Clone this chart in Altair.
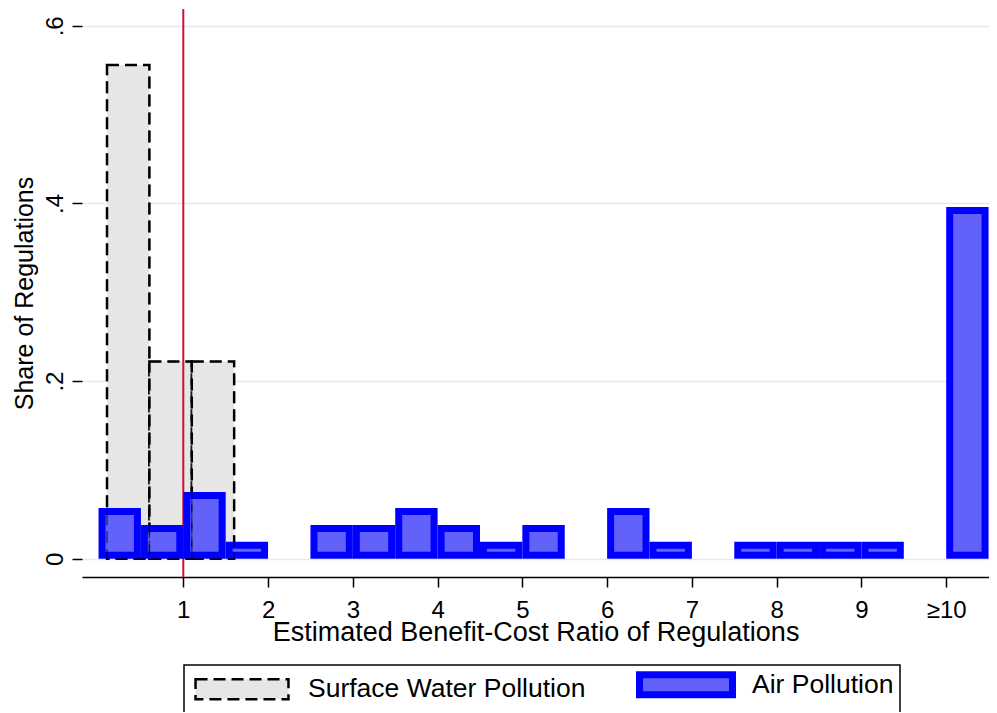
import altair as alt
import pandas as pd

series_names = ["Surface Water Pollution", "Air Pollution"]

# Surface water histogram (bins of width 0.5)
water_bin_start = [0.1, 0.6, 1.1]
water_bin_end = [0.6, 1.1, 1.6]
water_share = [0.556, 0.222, 0.222]

# Air pollution histogram (bins of width 0.5; last bin is >=10)
air_bin_start = [0.0, 0.5, 1.0, 1.5, 2.5, 3.0, 3.5, 4.0, 4.5, 5.0, 6.0, 6.5, 7.5, 8.0, 8.5, 9.0, 10.0]
air_bin_end = [0.5, 1.0, 1.5, 2.0, 3.0, 3.5, 4.0, 4.5, 5.0, 5.5, 6.5, 7.0, 8.0, 8.5, 9.0, 9.5, 10.5]
air_share = [0.057, 0.038, 0.075, 0.019, 0.038, 0.038, 0.057, 0.038, 0.019, 0.038,
             0.057, 0.019, 0.019, 0.019, 0.019, 0.019, 0.396]

reference_ratio = [1]

x_tick_values = [1, 2, 3, 4, 5, 6, 7, 8, 9, 10]
x_tick_labels = ["1", "2", "3", "4", "5", "6", "7", "8", "9", "≥10"]
y_tick_values = [0, 0.2, 0.4, 0.6]
y_tick_labels = ["0", ".2", ".4", ".6"]

FONT = "Liberation Sans"

water_df = pd.DataFrame({"start": water_bin_start, "end": water_bin_end,
                         "share": water_share, "series": series_names[0]})
air_df = pd.DataFrame({"start": air_bin_start, "end": air_bin_end,
                       "share": air_share, "series": series_names[1]})
rule_df = pd.DataFrame({"start": reference_ratio})


def label_expr(values, labels):
    parts = [f"abs(datum.value - {v}) < 1e-6 ? '{l}'" for v, l in zip(values, labels)]
    return " : ".join(parts) + " : ''"


x_enc = alt.X(
    "start:Q",
    scale=alt.Scale(domain=[-0.195, 10.505], nice=False, zero=False),
    axis=alt.Axis(
        values=x_tick_values,
        labelExpr=label_expr(x_tick_values, x_tick_labels),
        title="Estimated Benefit-Cost Ratio of Regulations",
        grid=False,
        domainColor="black", domainWidth=1.5,
        tickColor="black", tickWidth=1.5, tickSize=10,
        labelFont=FONT, labelFontSize=24, labelColor="black", labelPadding=11,
        labelFlush=False, labelOverlap=False,
        titleFont=FONT, titleFontSize=27, titleFontWeight="normal", titleColor="black",
        titleBaseline="alphabetic", titleY=63,
    ),
)

y_enc = alt.Y(
    "share:Q",
    scale=alt.Scale(domain=[-0.0206, 0.619], nice=False, zero=False),
    axis=alt.Axis(
        values=y_tick_values,
        labelExpr=label_expr(y_tick_values, y_tick_labels),
        title="Share of Regulations",
        domain=False,
        grid=True, gridColor="#e3eaee", gridWidth=1.5,
        tickColor="black", tickWidth=1.5, tickSize=10,
        labelFont=FONT, labelFontSize=24, labelColor="black",
        labelAngle=270, labelAlign="center", labelBaseline="alphabetic", labelPadding=10,
        labelOverlap=False,
        titleFont=FONT, titleFontSize=25, titleFontWeight="normal", titleColor="black",
        titleAngle=270, titleAlign="center", titleBaseline="alphabetic",
        titleX=-50, titleY=284,
    ),
)

leg = alt.Legend(title=None)
fill_enc = alt.Fill("series:N", scale=alt.Scale(domain=series_names, range=["#e6e6e6", "#6262fa"]), legend=leg)
stroke_enc = alt.Stroke("series:N", scale=alt.Scale(domain=series_names, range=["#000000", "#0000ff"]), legend=leg)
dash_enc = alt.StrokeDash("series:N", scale=alt.Scale(domain=series_names, range=[[12, 6], [1, 0]]), legend=leg)
sw_enc = alt.StrokeWidth("series:N", scale=alt.Scale(type="ordinal", domain=series_names, range=[2.5, 7]), legend=leg)

water = alt.Chart(water_df).mark_bar().encode(
    x=x_enc, x2="end:Q", y=y_enc, y2=alt.datum(0),
    fill=fill_enc, stroke=stroke_enc, strokeDash=dash_enc, strokeWidth=sw_enc,
)

rule = alt.Chart(rule_df).mark_rule(color="#d0103a", strokeWidth=2).encode(x=x_enc)

air = alt.Chart(air_df).mark_bar(
    xOffset=3.5, x2Offset=-3.5, yOffset=3.5, y2Offset=-3.5,
).encode(
    x=x_enc, x2="end:Q", y=y_enc, y2=alt.datum(0),
    fill=fill_enc, stroke=stroke_enc, strokeDash=dash_enc, strokeWidth=sw_enc,
)

# dashed outlines of the surface-water bars, visible through the air bars' fill
water_outline = alt.Chart(water_df).mark_bar(
    filled=False, fill="transparent", stroke="black", strokeDash=[12, 6], strokeWidth=1.5, opacity=0.55,
).encode(
    x=x_enc, x2="end:Q", y=y_enc, y2=alt.datum(0),
)

chart = alt.layer(water, rule, air, water_outline).properties(
    width=907, height=568,
    padding={"left": 74, "top": 1, "right": 0, "bottom": 135},
    autosize="none",
    background="white",
).configure_view(stroke=None).configure_legend(
    orient="none", legendX=102, legendY=656,
    direction="horizontal",
    strokeColor="black", strokeWidth=1.5, padding=6,
    symbolType="M-5.81,-1.25H5.81V1.25H-5.81Z", symbolSize=256,
    symbolOffset=38.75,
    labelFont=FONT, labelFontSize=26.5, labelColor="black", labelOffset=52.75, labelLimit=500,
    columnPadding=39,
)

chart.save("out.html", embed_options={"renderer": "svg", "actions": False})
